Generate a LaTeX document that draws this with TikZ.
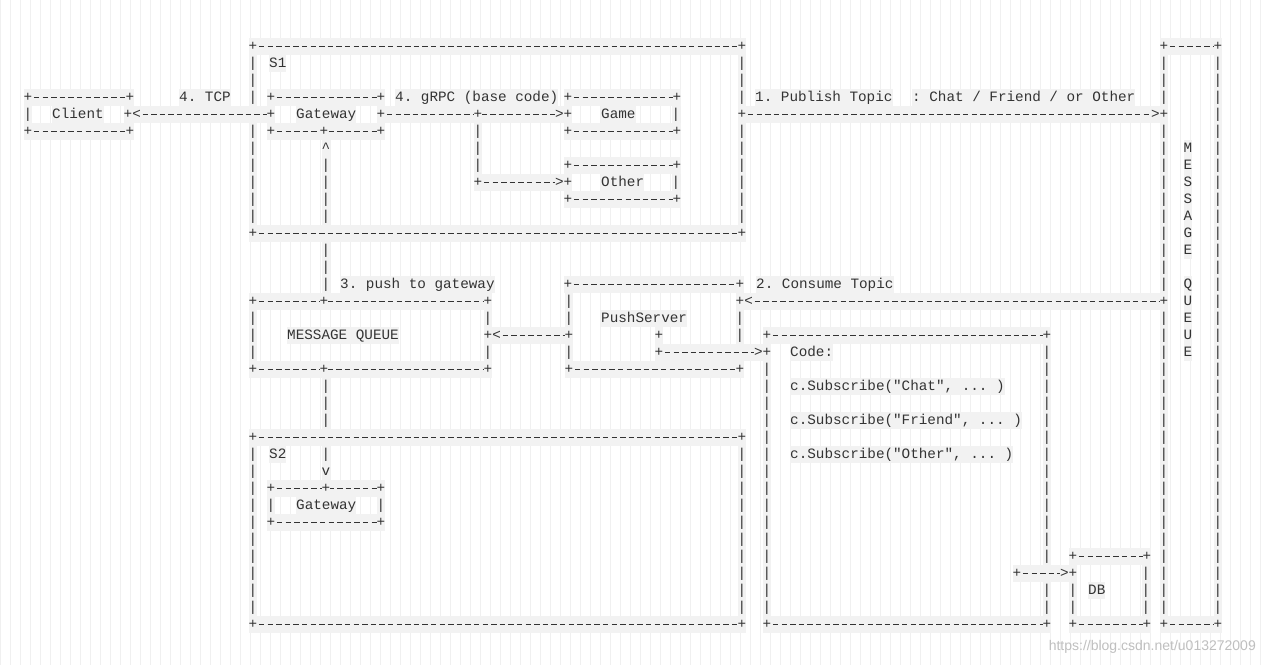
\documentclass[tikz,border=0pt]{standalone}
\usepackage{fontspec}
\setmonofont{Liberation Mono}
\setsansfont{Liberation Sans}
\definecolor{bgc}{HTML}{F2F2F2}
\definecolor{txc}{HTML}{333333}
\definecolor{gridc}{HTML}{F0F0F0}
\ExplSyntaxOff
\tikzset{
  seg/.style={font=\ttfamily\fontsize{14.3}{17}\selectfont, inner xsep=0pt, inner ysep=0pt,
    text height=12.5pt, text depth=4.5pt, fill=bgc, text=txc},
  dashline/.style={draw=txc, line width=0.75pt, dash pattern=on 5.4pt off 3.2pt, dash phase=7pt}
}
\newcommand\Tx[3]{\node[seg,anchor=base west] at (#2,{#1*17+50.5}) {#3};}
\newcommand\Ch[3]{\node[seg,anchor=base] at (#2,{#1*17+50.5}) {#3};}
\newcommand\Wall[2]{\Ch{#1}{#2}{|}}
\newcommand\HL[3]{%
  \fill[bgc] ({#2-4.3},{#1*17+46-8.5}) rectangle ({#3+4.3},{#1*17+46+8.5});
  \draw[dashline] ({#2+4.3},{#1*17+46.3}) -- ({#3-4.3},{#1*17+46.3});
  \Ch{#1}{#2}{+}\Ch{#1}{#3}{+}}
\begin{document}
\begin{tikzpicture}[x=1pt,y=-1pt]
\useasboundingbox (0,0) rectangle (1264,665);
\fill[white] (0,0) rectangle (1264,665);
\draw[gridc, line width=0.5pt] (0,0) grid[step=10] (1264,665);
% S1 box
\HL{0}{253}{742}
\foreach \r in {1,2,3,5,6,7,8,9,10}{\Wall{\r}{253}}
\foreach \r in {1,2,3,5,6,7,8,9,10}{\Wall{\r}{742}}
\HL{11}{253}{742}
\Tx{1}{269}{S1}
% message queue column
\HL{0}{1164}{1218}
\foreach \r in {1,...,3,5,6,...,14,16,17,...,33}{\Wall{\r}{1164}}
\foreach \r in {1,...,33}{\Wall{\r}{1218}}
\HL{34}{1164}{1218}
\foreach \l [count=\i from 6] in {M,E,S,S,A,G,E}{\Ch{\i}{1188}{\l}}
\foreach \l [count=\i from 14] in {Q,U,E,U,E}{\Ch{\i}{1188}{\l}}
% client
\HL{3}{28}{130}
\Wall{4}{28}
\Tx{4}{52}{Client}
\HL{5}{28}{130}
\Tx{3}{179}{4. TCP}
\HL{4}{128}{271}
\Ch{4}{136.6}{<}
% gateway in S1
\HL{3}{271}{381}
\Tx{4}{296}{Gateway}
\HL{5}{271}{381}
\Ch{5}{324}{+}
\Tx{3}{395}{4. gRPC (base code)}
\HL{4}{381}{568}
\Ch{4}{478}{+}
\Ch{4}{559.4}{>}
\foreach \r in {5,6,7}{\Wall{\r}{478}}
\HL{8}{478}{568}
\Ch{8}{559.4}{>}
% game / other
\HL{3}{568}{677}
\Tx{4}{601}{Game}
\Wall{4}{676}
\HL{5}{568}{677}
\HL{7}{568}{677}
\Tx{8}{601}{Other}
\Wall{8}{676}
\HL{9}{568}{677}
% publish arrow
\Tx{3}{755}{1. Publish Topic}
\Tx{3}{912}{: Chat / Friend / or Other}
\HL{4}{742}{1164}
\Ch{4}{1155.4}{>}
% vertical link gateway
\Ch{6}{326}{\textasciicircum}
\foreach \r in {7,8,9,10,12,13,14,20,21,22,24}{\Wall{\r}{326}}
\Ch{25}{326}{v}
\Tx{14}{340}{3. push to gateway}
% local message queue
\HL{15}{253}{488}
\Ch{15}{324}{+}
\foreach \r in {16,17,18}{\Wall{\r}{253}}
\foreach \r in {16,18}{\Wall{\r}{488}}
\Tx{17}{287}{MESSAGE QUEUE}
\HL{19}{253}{488}
\Ch{19}{324}{+}
% push server
\HL{14}{568}{740}
\foreach \r in {15,16,18}{\Wall{\r}{569}}
\foreach \r in {16,17,18}{\Wall{\r}{740}}
\HL{19}{569}{740}
\Tx{16}{601}{PushServer}
\HL{17}{488}{569}
\Ch{17}{496.6}{<}
\Ch{17}{659}{+}
\Tx{14}{756}{2. Consume Topic}
\HL{15}{740}{1164}
\Ch{15}{748.6}{<}
% code box
\HL{17}{767}{1047}
\HL{18}{659}{767}
\Ch{18}{758.4}{>}
\foreach \r in {19,...,33}{\Wall{\r}{767}}
\foreach \r in {18,...,30,32,33}{\Wall{\r}{1047}}
\HL{34}{767}{1047}
\Tx{18}{790}{Code:}
\Tx{20}{790}{c.Subscribe("Chat", ... )}
\Tx{22}{790}{c.Subscribe("Friend", ... )}
\Tx{24}{790}{c.Subscribe("Other", ... )}
% S2 box
\HL{23}{253}{742}
\foreach \r in {24,...,33}{\Wall{\r}{253}}
\foreach \r in {24,...,33}{\Wall{\r}{742}}
\HL{34}{253}{742}
\Tx{24}{269}{S2}
\HL{26}{271}{381}
\Ch{26}{326}{+}
\Wall{27}{271}
\Tx{27}{296}{Gateway}
\Wall{27}{381}
\HL{28}{271}{381}
% DB
\HL{30}{1073}{1147}
\HL{31}{1017}{1073}
\Ch{31}{1064.4}{>}
\foreach \r in {31,32,33}{\Wall{\r}{1146}}
\foreach \r in {32,33}{\Wall{\r}{1073}}
\Tx{32}{1088}{DB}
\HL{34}{1073}{1147}
% watermark
\node[font=\sffamily\fontsize{14}{16}\selectfont, text=black!25, anchor=east, inner sep=0pt] (wm) at (1256,647) {https://blog.csdn.net/u013272009};
\end{tikzpicture}
\end{document}
